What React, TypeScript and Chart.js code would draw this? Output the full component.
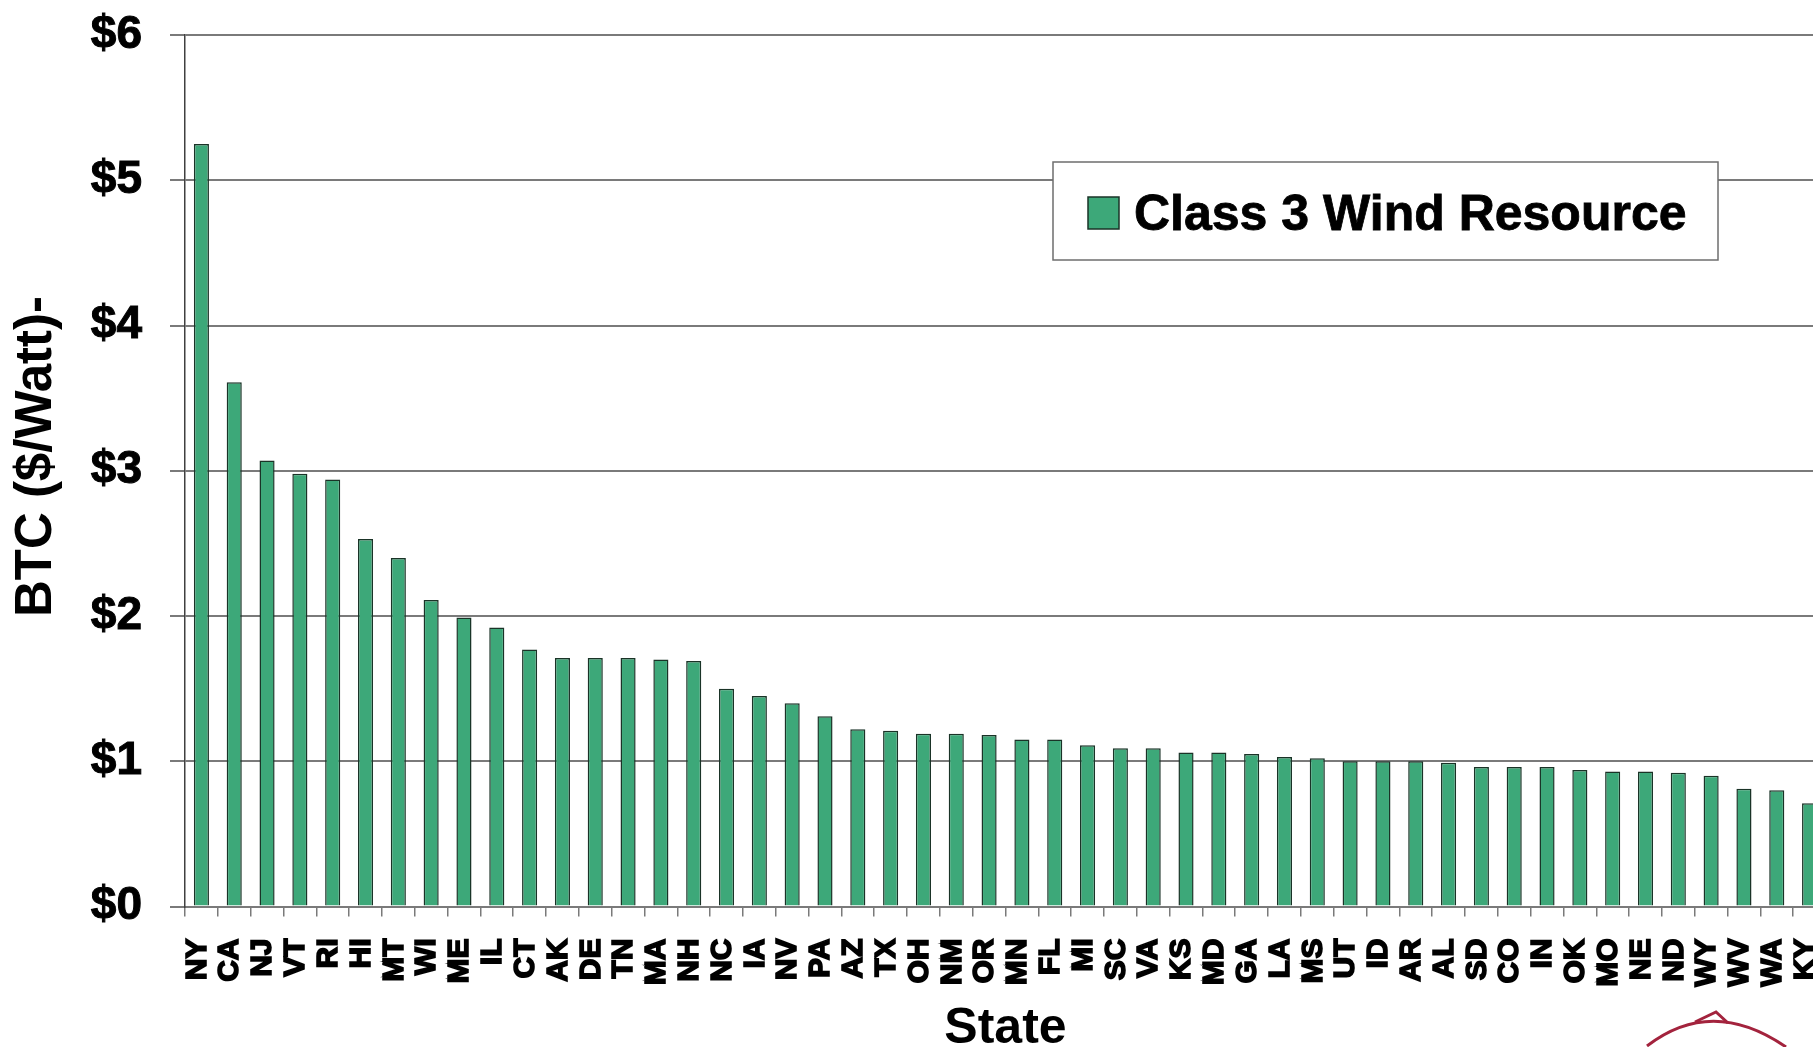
import React, { useEffect, useRef } from "react";
import { Chart, registerables } from "chart.js";

Chart.register(...registerables);

// ---------- data ----------
const states = [
  "NY", "CA", "NJ", "VT", "RI", "HI", "MT", "WI", "ME", "IL",
  "CT", "AK", "DE", "TN", "MA", "NH", "NC", "IA", "NV", "PA",
  "AZ", "TX", "OH", "NM", "OR", "MN", "FL", "MI", "SC", "VA",
  "KS", "MD", "GA", "LA", "MS", "UT", "ID", "AR", "AL", "SD",
  "CO", "IN", "OK", "MO", "NE", "ND", "WY", "WV", "WA", "KY",
];

const btcPerWatt = [
  5.25, 3.61, 3.07, 2.98, 2.94, 2.53, 2.40, 2.11, 1.99, 1.92,
  1.77, 1.71, 1.71, 1.71, 1.70, 1.69, 1.50, 1.45, 1.40, 1.31,
  1.22, 1.21, 1.19, 1.19, 1.18, 1.15, 1.15, 1.11, 1.09, 1.09,
  1.06, 1.06, 1.05, 1.03, 1.02, 1.00, 1.00, 1.00, 0.99, 0.96,
  0.96, 0.96, 0.94, 0.93, 0.93, 0.92, 0.90, 0.81, 0.80, 0.71,
];

const yTickValues = [0, 1, 2, 3, 4, 5, 6];
const seriesLabel = "Class 3 Wind Resource";
const xAxisTitle = "State";
const yAxisTitle = "  BTC ($/Watt)-";

// ---------- styles ----------
const FONT = "'Liberation Sans', Arial, Helvetica, sans-serif";
const GREEN = "#3da879";
const BAR_BORDER = "#1a3327";
const GRID = "#7a7a7a";

const boxLegendPlugin = {
  id: "boxLegend",
  afterDatasetsDraw(chart: any) {
    const ctx = chart.ctx;
    const ds = chart.data.datasets[0];
    ctx.save();
    const bx = 1053, by = 162, bw = 665, bh = 98;
    ctx.fillStyle = "#ffffff";
    ctx.fillRect(bx, by, bw, bh);
    ctx.strokeStyle = "#6e6e6e";
    ctx.lineWidth = 1.5;
    ctx.strokeRect(bx, by, bw, bh);
    // swatch
    ctx.fillStyle = ds.backgroundColor;
    ctx.fillRect(1088, 197, 31, 32);
    ctx.strokeStyle = ds.borderColor;
    ctx.lineWidth = 1.5;
    ctx.strokeRect(1088, 197, 31, 32);
    // text
    ctx.fillStyle = "#000";
    ctx.font = `bold 50px ${FONT}`;
    ctx.textBaseline = "alphabetic";
    ctx.textAlign = "left";
    ctx.fillText(ds.label, 1134, 230);
    ctx.strokeStyle = "#000";
    ctx.lineWidth = 0.8;
    ctx.strokeText(ds.label, 1134, 230);
    ctx.restore();
  },
  afterDraw(chart: any) {
    // partial logo arc in bottom-right corner
    const ctx = chart.ctx;
    ctx.save();
    ctx.strokeStyle = "#a3233d";
    ctx.lineWidth = 3;
    ctx.beginPath();
    ctx.moveTo(1647, 1046);
    ctx.quadraticCurveTo(1712, 996, 1786, 1047);
    ctx.stroke();
    ctx.beginPath();
    ctx.moveTo(1695, 1022);
    ctx.lineTo(1716, 1012);
    ctx.lineTo(1728, 1023);
    ctx.stroke();
    ctx.restore();
  },
};

export default function App() {
  const canvasRef = useRef<HTMLCanvasElement | null>(null);

  useEffect(() => {
    const canvas = canvasRef.current;
    if (!canvas) return;
    const chart = new Chart(canvas, {
      type: "bar",
      data: {
        labels: states,
        datasets: [
          {
            label: seriesLabel,
            data: btcPerWatt,
            backgroundColor: GREEN,
            borderColor: BAR_BORDER,
            borderWidth: 1.5,
            categoryPercentage: 1,
            barPercentage: 0.46,
          },
        ],
      },
      options: {
        responsive: false,
        animation: false,
        devicePixelRatio: 1,
        layout: { padding: { top: 35, right: 14, left: 0, bottom: 0 } },
        plugins: {
          legend: { display: false },
          tooltip: { enabled: false },
          title: { display: false },
        },
        scales: {
          x: {
            type: "category",
            offset: true,
            grid: {
              display: true,
              drawOnChartArea: false,
              drawTicks: true,
              tickLength: 10,
              color: GRID,
              lineWidth: 1.5,
              offset: true,
            },
            border: { display: true, color: GRID, width: 2 },
            ticks: {
              autoSkip: false,
              maxRotation: 90,
              minRotation: 90,
              padding: 22,
              labelOffset: -4,
              color: "#000",
              textStrokeColor: "#000",
              textStrokeWidth: 1.6,
              font: { family: FONT, size: 30, weight: "bold" },
            },
            title: {
              display: true,
              text: xAxisTitle,
              color: "#000",
              font: { family: FONT, size: 50, weight: "bold", lineHeight: 0.7 },
              padding: { top: 0, bottom: 0 },
            },
            afterFit: (s: any) => {
              s.height = 140.5;
              s.paddingLeft = 0;
              s.paddingRight = 0;
            },
          },
          y: {
            min: 0,
            max: 6,
            afterBuildTicks: (s: any) => {
              s.ticks = yTickValues.map((v) => ({ value: v }));
            },
            ticks: {
              padding: 28,
              color: "#000",
              textStrokeColor: "#000",
              textStrokeWidth: 1,
              font: { family: FONT, size: 46, weight: "bold" },
              callback: (v: any) => "$" + v,
            },
            grid: {
              color: GRID,
              lineWidth: 2,
              tickLength: 15,
              drawTicks: true,
            },
            border: { display: true, color: "#404040", width: 1.5 },
            title: {
              display: true,
              text: yAxisTitle,
              color: "#000",
              font: { family: FONT, size: 51, weight: "bold", lineHeight: 1 },
              padding: { top: 11, bottom: 0 },
            },
            afterFit: (s: any) => {
              s.width = 185;
              s.paddingTop = 0;
              s.paddingBottom = 0;
            },
          },
        },
      },
      plugins: [boxLegendPlugin],
    } as any);
    return () => chart.destroy();
  }, []);

  return (
    <div
      style={{
        position: "fixed",
        left: 0,
        top: 0,
        width: 1813,
        height: 1047,
        overflow: "hidden",
        background: "#ffffff",
      }}
    >
      <canvas
        ref={canvasRef}
        width={1840}
        height={1047}
        style={{ display: "block", width: 1840, height: 1047 }}
      />
    </div>
  );
}
